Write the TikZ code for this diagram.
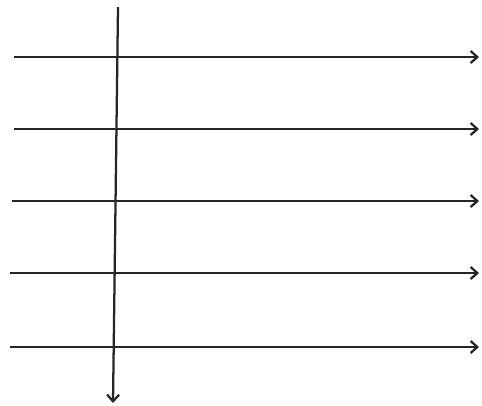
\documentclass[tikz,border=0pt]{standalone}
\usetikzlibrary{arrows.meta}
\begin{document}
\begin{tikzpicture}[x=0.75pt,y=-0.75pt,
  ray/.style={line width=1.7pt,draw=black!85,-{Straight Barb[length=5pt,width=9pt,line width=1.7pt]}}]
\useasboundingbox (0,0) rectangle (482,405);
\coordinate (a1) at (14,57);  \coordinate (b1) at (479,57);
\coordinate (a2) at (14,129); \coordinate (b2) at (479,129);
\coordinate (a3) at (12,201); \coordinate (b3) at (479,201);
\coordinate (a4) at (10,273); \coordinate (b4) at (479,273);
\coordinate (a5) at (10,347); \coordinate (b5) at (479,347);
\coordinate (top) at (118,7); \coordinate (bot) at (113,403);
\foreach \i in {1,...,5} \draw[ray] (a\i) -- (b\i);
\draw[ray] (top) -- (bot);
\end{tikzpicture}
\end{document}
